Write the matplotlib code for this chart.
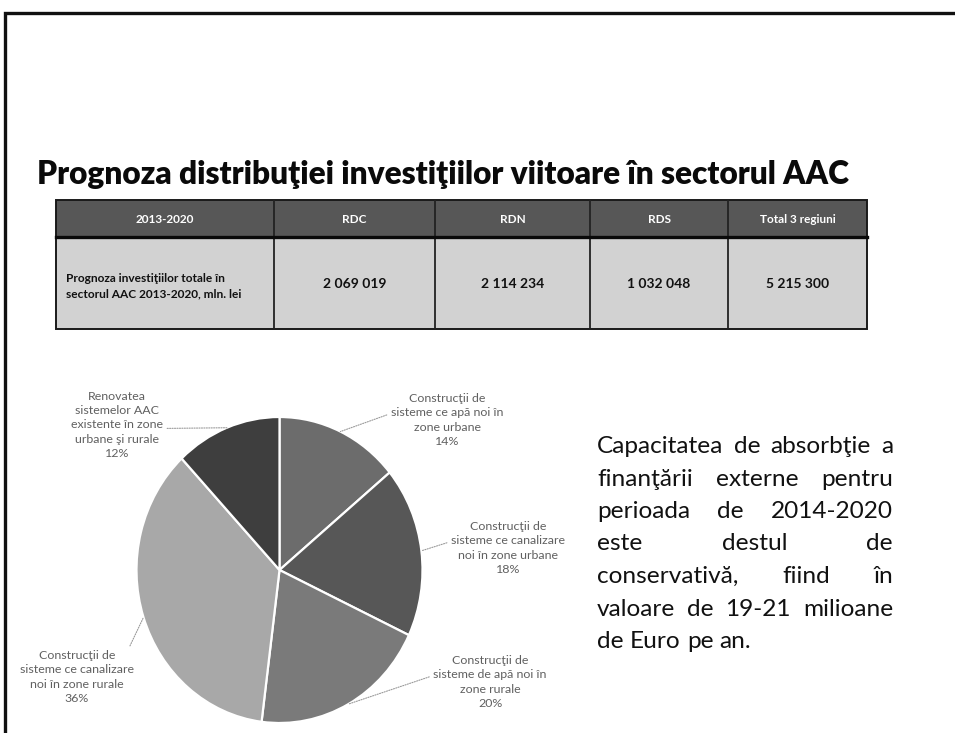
import matplotlib
matplotlib.use("Agg")
import matplotlib.pyplot as plt
from matplotlib.patches import Rectangle
import numpy as np

# ---------------- data ----------------
title = "Prognoza distribuţiei investiţiilor viitoare în sectorul AAC"

table_period = "2013-2020"
table_regions = ["RDC", "RDN", "RDS", "Total 3 regiuni"]
table_row_label = "Prognoza investiţiilor totale în\nsectorul AAC 2013-2020, mln. lei"
table_values = [2069019, 2114234, 1032048, 5215300]

pie_labels = [
    "Construcţii de\nsisteme ce apă noi în\nzone urbane",
    "Construcţii de\nsisteme ce canalizare\nnoi în zone urbane",
    "Construcţii de\nsisteme de apă noi în\nzone rurale",
    "Construcţii de\nsisteme ce canalizare\nnoi în zone rurale",
    "Renovatea\nsistemelor AAC\nexistente în zone\nurbane şi rurale",
]
pie_shares = [14, 18, 20, 36, 12]
pie_colors = ["#6c6c6c", "#575757", "#7a7a7a", "#a8a8a8", "#3e3e3e"]

side_lines = [
    "Capacitatea de absorbţie a",
    "finanţării externe pentru",
    "perioada de 2014-2020",
    "este destul de",
    "conservativă, fiind în",
    "valoare de 19-21 milioane",
    "de Euro pe an.",
]

# ---------------- layout ----------------
W, H = 955, 733
DPI = 100
FONT = "Lato"

fig = plt.figure(figsize=(W / DPI, H / DPI), dpi=DPI)
fig.patch.set_facecolor("white")
ax = fig.add_axes([0, 0, 1, 1])
ax.set_xlim(0, W)
ax.set_ylim(H, 0)
ax.axis("off")

# slide border (left and top)
ax.plot([5, 5, W + 5], [H + 5, 12.5, 12.5], color="#111111", lw=2.4,
        solid_joinstyle="miter", clip_on=False)

fig.canvas.draw()
renderer = fig.canvas.get_renderer()

# title, fitted to width
t = ax.text(37, 184, title, fontsize=22, fontweight="heavy", family=FONT,
            color="#0a0a0a", va="baseline", ha="left")
w = t.get_window_extent(renderer).width
t.set_fontsize(22 * 815 / w)

# ---------------- table ----------------
cols = [56, 274, 435, 590, 728, 867]
row_top, row_mid, row_bot = 200, 237, 329
head_color = "#575757"
body_color = "#d2d2d2"
ax.add_patch(Rectangle((cols[0], row_top), cols[-1] - cols[0], row_mid - row_top,
                       facecolor=head_color, edgecolor="none"))
ax.add_patch(Rectangle((cols[0], row_mid), cols[-1] - cols[0], row_bot - row_mid,
                       facecolor=body_color, edgecolor="none"))
for x in cols[1:-1]:
    ax.plot([x, x], [row_top, row_bot], color="#222222", lw=1.3)
ax.add_patch(Rectangle((cols[0], row_top), cols[-1] - cols[0], row_bot - row_top,
                       facecolor="none", edgecolor="#1a1a1a", lw=1.4))
ax.plot([cols[0], cols[-1]], [row_mid, row_mid], color="#0a0a0a", lw=2.4)

headers = [table_period] + table_regions
for i, h in enumerate(headers):
    ax.text((cols[i] + cols[i + 1]) / 2, (row_top + row_mid) / 2 + 1, h,
            color="white", fontsize=8.5, fontweight="bold", family=FONT,
            ha="center", va="center")

ax.text(66, 286, table_row_label, fontsize=8.6, fontweight="bold", family=FONT,
        ha="left", va="center", linespacing=1.45, color="#111111")
for i, v in enumerate(table_values):
    s = f"{v:,}".replace(",", " ")
    ax.text((cols[i + 1] + cols[i + 2]) / 2, 284, s, fontsize=10,
            fontweight="bold", family=FONT, ha="center", va="center",
            color="#111111")

# ---------------- pie ----------------
cx, cy, rx, ry = 279.5, 570, 143, 153
pax = fig.add_axes([(cx - rx) / W, (H - (cy + ry)) / H, 2 * rx / W, 2 * ry / H])
wedges, _ = pax.pie(pie_shares, colors=pie_colors, startangle=90,
                    counterclock=False,
                    wedgeprops=dict(edgecolor="white", linewidth=1.6))
pax.set_aspect("auto")
pax.set_xlim(-1, 1)
pax.set_ylim(-1, 1)
pax.axis("off")

label_pos = [(447, 420), (508, 548), (490, 682), (77, 677), (117, 425)]
label_rel = [(0.0, 0.62), (0.0, 0.62), (0.0, 0.62), (0.93, 0.92), (1.0, 0.45)]
for i, (lab, share) in enumerate(zip(pie_labels, pie_shares)):
    w_ = wedges[i]
    mid = np.deg2rad((w_.theta1 + w_.theta2) / 2)
    lx, ly = label_pos[i]
    pax.annotate(f"{lab}\n{share}%", xy=(np.cos(mid), np.sin(mid)),
                 xycoords="data", xytext=(lx, H - ly),
                 textcoords="figure pixels", ha="center", va="center",
                 fontsize=8.9, family=FONT, color="#606060", linespacing=1.38,
                 annotation_clip=False,
                 arrowprops=dict(arrowstyle="-", linestyle=(0, (1, 1.2)),
                                 color="#9a9a9a", lw=0.8,
                                 relpos=label_rel[i], shrinkA=1, shrinkB=0))

# ---------------- justified side text ----------------
x0, x1 = 597, 893
base0, pitch = 453, 32.5
kw = dict(fontsize=17.6, family=FONT, color="#111111", va="baseline", ha="left")
sp = (ax.text(0, 0, "x x", **kw).get_window_extent(renderer).width
      - ax.text(0, 0, "xx", **kw).get_window_extent(renderer).width)
for tt in ax.texts[-2:]:
    tt.remove()
for i, line in enumerate(side_lines):
    words = line.split()
    y = base0 + i * pitch
    texts = [ax.text(0, y, wd, **kw) for wd in words]
    widths = [tx.get_window_extent(renderer).width for tx in texts]
    if i == len(side_lines) - 1 or len(words) == 1:
        gap = sp
    else:
        gap = (x1 - x0 - sum(widths)) / (len(words) - 1)
    x = x0
    for tx, wd in zip(texts, widths):
        tx.set_x(x)
        x += wd + gap

fig.savefig("out.png", dpi=DPI, facecolor="white")
